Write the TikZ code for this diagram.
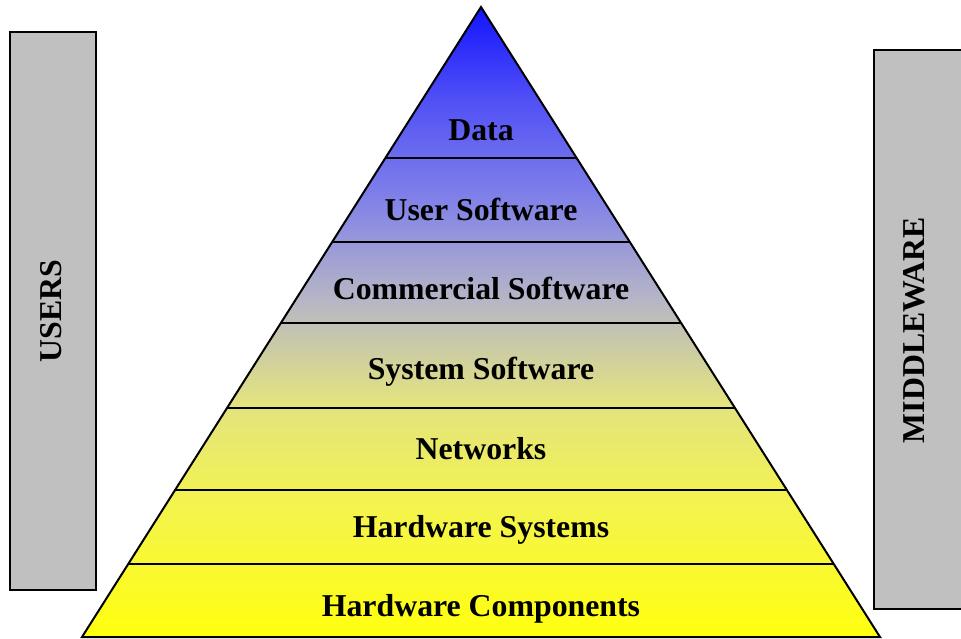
\documentclass[tikz,border=0pt]{standalone}
\usepackage{fontspec}
\setmainfont{Liberation Serif}
\usetikzlibrary{calc}
\definecolor{c0}{RGB}{255,255,15}
\definecolor{c1}{RGB}{243,243,80}
\definecolor{c2}{RGB}{226,226,130}
\definecolor{c3}{RGB}{182,182,198}
\definecolor{c4}{RGB}{130,130,232}
\definecolor{c5}{RGB}{80,80,246}
\definecolor{c6}{RGB}{20,20,255}
\definecolor{sidegray}{RGB}{192,192,192}
\pgfdeclareverticalshading{pyr}{100bp}{color(0bp)=(c0); color(25bp)=(c0); color(35.87bp)=(c1); color(43.81bp)=(c2); color(51.75bp)=(c3); color(59.68bp)=(c4); color(67.62bp)=(c5); color(75bp)=(c6); color(100bp)=(c6)}
\tikzset{
  lbl/.style={font=\bfseries\fontsize{31.8}{34}\selectfont, inner sep=0pt},
  rowlbl/.style={lbl, anchor=base},
  sidebox/.style={fill=sidegray, draw=black, line width=2pt},
  divider/.style={draw=black, line width=1.6pt},
}
\begin{document}
\begin{tikzpicture}[x=1pt,y=-1pt]
\useasboundingbox (0,0) rectangle (961,638);
% side boxes
\draw[sidebox] (10,32) rectangle (96,590);
\draw[sidebox] (874,50) rectangle (964,609);
\node[lbl, rotate=90] (users) at (51,311) {USERS};
\node[lbl, rotate=90] (mid) at (914,330) {MIDDLEWARE};
% pyramid
\coordinate (apex) at (481,7);
\coordinate (bl) at (82,637);
\coordinate (br) at (880,637);
\shade[shading=pyr] (apex) -- (bl) -- (br) -- cycle;
\foreach \y [count=\i] in {158,242,323,408,490,564}{
  \pgfmathsetmacro{\t}{(\y-7)/630}
  \coordinate (L\i) at ($(apex)!\t!(bl)$);
  \coordinate (R\i) at ($(apex)!\t!(br)$);
  \draw[divider] (L\i) -- (R\i);
}
\draw[line width=2pt, line join=miter] (apex) -- (bl) -- (br) -- cycle;
% labels
\node[rowlbl] (data) at (481,140.5) {Data};
\node[rowlbl] (usw) at (481,220.5) {User Software};
\node[rowlbl] (csw) at (481,299.5) {Commercial Software};
\node[rowlbl] (ssw) at (481,379.5) {System Software};
\node[rowlbl] (net) at (481,459.5) {Networks};
\node[rowlbl] (hws) at (481,537.5) {Hardware Systems};
\node[rowlbl] (hwc) at (481,616.5) {Hardware Components};
\end{tikzpicture}
\end{document}
